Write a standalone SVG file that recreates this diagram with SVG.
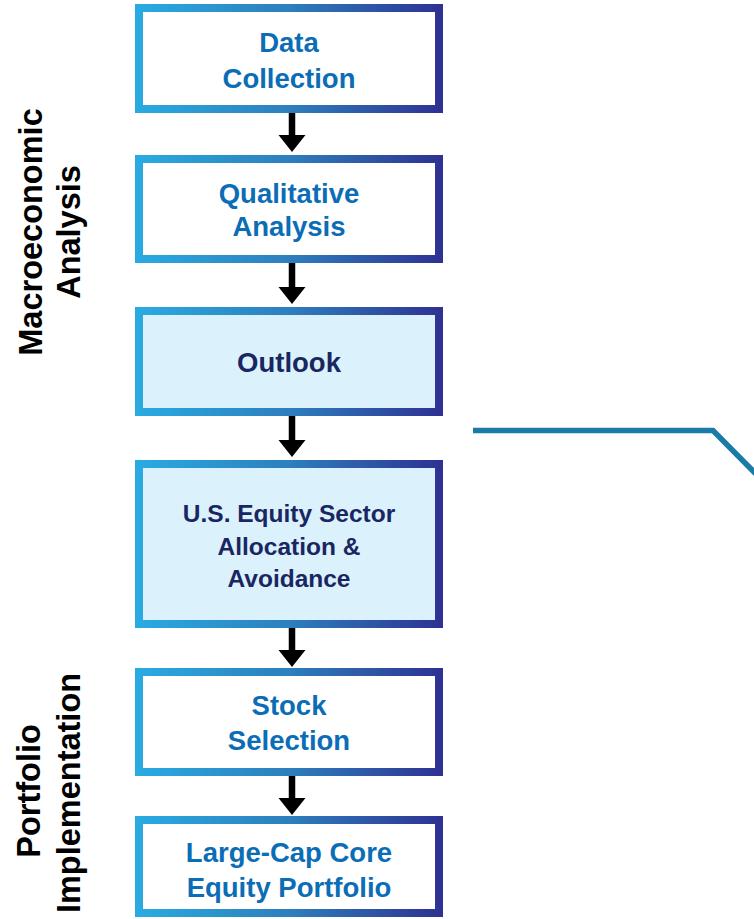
<svg xmlns="http://www.w3.org/2000/svg" width="754" height="919" viewBox="0 0 754 919">
  <defs>
    <linearGradient id="bord" gradientUnits="userSpaceOnUse" x1="135" y1="0" x2="443" y2="0">
      <stop offset="0" stop-color="#29ABE2"/>
      <stop offset="0.5" stop-color="#2D7FBD"/>
      <stop offset="1" stop-color="#2E3192"/>
    </linearGradient>
    <marker id="head" markerUnits="userSpaceOnUse" markerWidth="30" markerHeight="30" refX="0" refY="0" orient="auto" overflow="visible">
      <path d="M0,-13.5 L17,0 L0,13.5 Z" fill="#000"/>
    </marker>
    <style>
      .box { stroke: url(#bord); stroke-width: 8; }
      .plain { fill: #FFFFFF; }
      .hl { fill: #DBF2FD; }
      .t1 { font-family: "Liberation Sans", Arial, sans-serif; font-weight: bold; font-size: 27.5px; fill: #0B6DB5; text-anchor: middle; }
      .t2 { font-family: "Liberation Sans", Arial, sans-serif; font-weight: bold; font-size: 27.5px; fill: #1A2661; text-anchor: middle; }
      .t3 { font-family: "Liberation Sans", Arial, sans-serif; font-weight: bold; font-size: 24.5px; fill: #1A2661; text-anchor: middle; }
      .side { font-family: "Liberation Sans", Arial, sans-serif; font-weight: bold; font-size: 32.5px; fill: #000; text-anchor: middle; }
      .arr { stroke: #000; stroke-width: 6.5; fill: none; marker-end: url(#head); }
      .link { stroke: #1A7BA6; stroke-width: 5.5; fill: none; stroke-linejoin: miter; }
    </style>
  </defs>

  <g id="label-macro">
    <text class="side" transform="translate(42,232) rotate(-90)">Macroeconomic</text>
    <text class="side" transform="translate(80,232) rotate(-90)">Analysis</text>
  </g>
  <g id="label-portfolio">
    <text class="side" transform="translate(40,791) rotate(-90)">Portfolio</text>
    <text class="side" transform="translate(80,793) rotate(-90)">Implementation</text>
  </g>

  <g id="data-collection">
    <rect class="box plain" x="139" y="8" width="300" height="101"/>
    <text class="t1" x="289" y="52">Data</text>
    <text class="t1" x="289" y="88">Collection</text>
  </g>
  <g id="qualitative-analysis">
    <rect class="box plain" x="139" y="159" width="300" height="100"/>
    <text class="t1" x="289" y="203">Qualitative</text>
    <text class="t1" x="289" y="236">Analysis</text>
  </g>
  <g id="outlook">
    <rect class="box hl" x="139" y="311" width="300" height="101"/>
    <text class="t2" x="289" y="372">Outlook</text>
  </g>
  <g id="sector-allocation">
    <rect class="box hl" x="139" y="464" width="300" height="160"/>
    <text class="t3" x="289" y="522">U.S. Equity Sector</text>
    <text class="t3" x="289" y="555">Allocation &amp;</text>
    <text class="t3" x="289" y="587">Avoidance</text>
  </g>
  <g id="stock-selection">
    <rect class="box plain" x="139" y="672" width="300" height="100"/>
    <text class="t1" x="289" y="715">Stock</text>
    <text class="t1" x="289" y="750">Selection</text>
  </g>
  <g id="portfolio">
    <rect class="box plain" x="139" y="820" width="300" height="93"/>
    <text class="t1" x="289" y="862">Large-Cap Core</text>
    <text class="t1" x="289" y="897">Equity Portfolio</text>
  </g>

  <g id="connectors">
    <path class="arr" d="M292,113 V135"/>
    <path class="arr" d="M292,263 V287"/>
    <path class="arr" d="M292,416 V440"/>
    <path class="arr" d="M292,628 V650"/>
    <path class="arr" d="M292,776 V798"/>
    <path class="link" d="M473,430.5 H713 L756,474"/>
  </g>
</svg>
